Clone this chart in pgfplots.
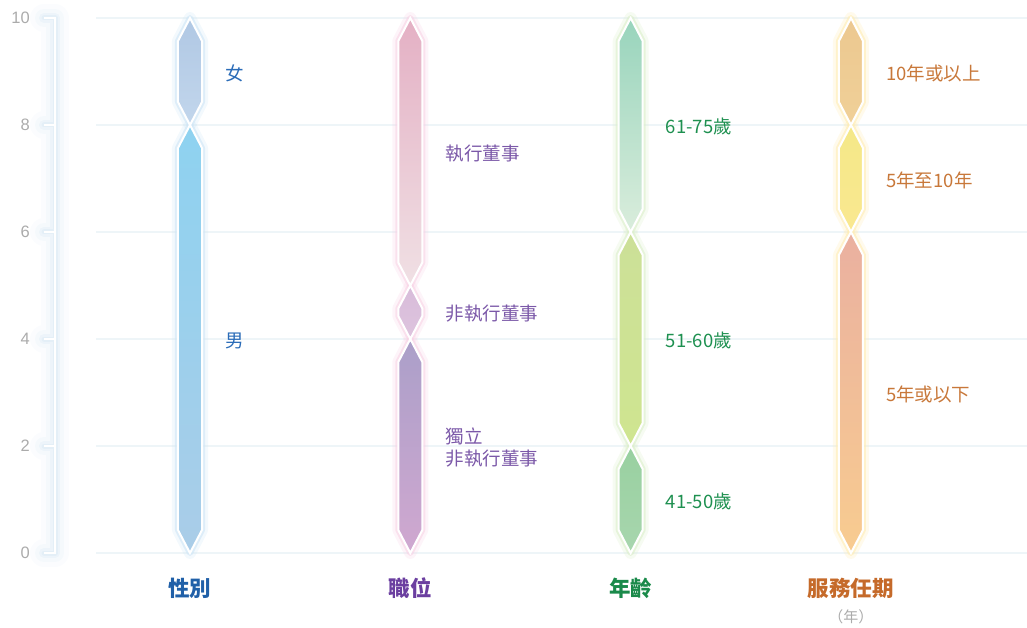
\documentclass[border=0pt]{standalone}
\usepackage{pgfplots}
\pgfplotsset{compat=1.18}
\usepackage{fontspec}
\setmainfont{Noto Sans CJK TC}
\newfontfamily\tickfont{Liberation Sans}
\definecolor{gridc}{HTML}{EEF5F8}
\definecolor{axglow}{HTML}{D4E6F3}
\definecolor{tickgray}{HTML}{ABABAB}
% category label colours
\definecolor{catA}{HTML}{2060A8}
\definecolor{catB}{HTML}{6B3FA0}
\definecolor{catC}{HTML}{1A8A4A}
\definecolor{catD}{HTML}{C56A2A}
% series label colours
\definecolor{labA}{HTML}{2B6CB8}
\definecolor{labB}{HTML}{7B58A8}
\definecolor{labC}{HTML}{1E9050}
\definecolor{labD}{HTML}{C8783A}
% glows
\definecolor{glowA}{HTML}{CFE6F6}
\definecolor{glowB}{HTML}{F8D4E6}
\definecolor{glowC}{HTML}{DCEFCB}
\definecolor{glowD}{HTML}{FFEDB5}
% segment colours
\definecolor{a1t}{HTML}{8ED2F0}\definecolor{a1b}{HTML}{AACDE8}
\definecolor{a2t}{HTML}{B0C8E4}\definecolor{a2b}{HTML}{C2D6EC}
\definecolor{b1t}{HTML}{AB9FC9}\definecolor{b1b}{HTML}{D0A8D0}
\definecolor{b2t}{HTML}{D8BCDA}\definecolor{b2b}{HTML}{DEC4DE}
\definecolor{b3t}{HTML}{E4B0C4}\definecolor{b3b}{HTML}{F0E0E4}
\definecolor{c1t}{HTML}{98D0A0}\definecolor{c1b}{HTML}{A8D6AE}
\definecolor{c2t}{HTML}{CCE098}\definecolor{c2b}{HTML}{CFE590}
\definecolor{c3t}{HTML}{98D4BC}\definecolor{c3b}{HTML}{DAEDDC}
\definecolor{d1t}{HTML}{EAB0A0}\definecolor{d1b}{HTML}{F8CC90}
\definecolor{d2t}{HTML}{F4E888}\definecolor{d2b}{HTML}{FAE890}
\definecolor{d3t}{HTML}{ECC890}\definecolor{d3b}{HTML}{F0D098}

\newcommand\bw{0.0545}
\newcommand\tp{0.43}
% #1 category x, #2 lower value, #3 upper value, #4 style
\newcommand{\segshape}[4]{%
  \pgfmathsetmacro\xl{#1-\bw}\pgfmathsetmacro\xr{#1+\bw}%
  \pgfmathsetmacro\ya{#2+\tp}\pgfmathsetmacro\yb{#3-\tp}%
  \edef\tmp{\noexpand\addplot[#4] coordinates {(#1,#2) (\xr,\ya) (\xr,\yb) (#1,#3) (\xl,\yb) (\xl,\ya)} -- cycle;}\tmp}
\newcommand{\glow}[4]{%
  \segshape{#1}{#2}{#3}{draw=#4, line width=12pt, opacity=0.25, line join=round}%
  \segshape{#1}{#2}{#3}{draw=#4, line width=6pt, opacity=0.6, line join=round}}
\newcommand{\seg}[5]{%
  \segshape{#1}{#2}{#3}{draw=white, line width=2pt, top color=#4, bottom color=#5}}
\newcommand{\bracket}{(axis cs:-0.6626,0) -- (axis cs:-0.6127,0) -- (axis cs:-0.6127,10) -- (axis cs:-0.6626,10)
  (axis cs:-0.6626,2) -- (axis cs:-0.6127,2) (axis cs:-0.6626,4) -- (axis cs:-0.6127,4)
  (axis cs:-0.6626,6) -- (axis cs:-0.6127,6) (axis cs:-0.6626,8) -- (axis cs:-0.6127,8)}

\begin{document}
\begin{tikzpicture}
\useasboundingbox (0,0) rectangle (1027pt,627pt);
\begin{axis}[at={(55pt,74pt)}, anchor=south west, scale only axis,
  width=972pt, height=535pt, xmin=-0.6127, xmax=3.799, ymin=0, ymax=10,
  hide axis, clip=false]
% grid lines
\pgfplotsinvokeforeach{0,2,4,6,8,10}{
  \draw[gridc, line width=2pt] (axis cs:-0.427,#1) -- (axis cs:3.799,#1);}
% y axis bracket with soft glow
\draw[axglow, line width=28pt, opacity=0.10, line join=round, line cap=round] \bracket;
\draw[axglow, line width=18pt, opacity=0.15, line join=round, line cap=round] \bracket;
\draw[axglow, line width=10pt, opacity=0.25, line join=round, line cap=round] \bracket;
\draw[axglow, line width=5pt, opacity=0.35, line join=round, line cap=round] \bracket;
\draw[white, line width=2.5pt] \bracket;
\pgfplotsinvokeforeach{0,2,4,6,8,10}{
  \node[anchor=east, text=tickgray, font=\tickfont\fontsize{16.5}{18}\selectfont, inner sep=0pt]
    at (axis cs:-0.726,#1) {#1};}

% glows
\glow{0}{0}{8}{glowA}\glow{0}{8}{10}{glowA}
\glow{1}{0}{4}{glowB}\glow{1}{4}{5}{glowB}\glow{1}{5}{10}{glowB}
\glow{2}{0}{2}{glowC}\glow{2}{2}{6}{glowC}\glow{2}{6}{10}{glowC}
\glow{3}{0}{6}{glowD}\glow{3}{6}{8}{glowD}\glow{3}{8}{10}{glowD}

% 性別: 男 8, 女 2
\seg{0}{0}{8}{a1t}{a1b}
\seg{0}{8}{10}{a2t}{a2b}
% 職位: 獨立非執行董事 4, 非執行董事 1, 執行董事 5
\seg{1}{0}{4}{b1t}{b1b}
\seg{1}{4}{5}{b2t}{b2b}
\seg{1}{5}{10}{b3t}{b3b}
% 年齡: 41-50 2, 51-60 4, 61-75 4
\seg{2}{0}{2}{c1t}{c1b}
\seg{2}{2}{6}{c2t}{c2b}
\seg{2}{6}{10}{c3t}{c3b}
% 服務任期: <=5 6, 5-10 2, >=10 2
\seg{3}{0}{6}{d1t}{d1b}
\seg{3}{6}{8}{d2t}{d2b}
\seg{3}{8}{10}{d3t}{d3b}

% series labels
\tikzset{lab/.style={anchor=west, inner sep=0pt, font=\fontsize{18.5}{22}\selectfont, align=left}}
\node[lab, text=labA] at (axis cs:0.159,8.97) {女};
\node[lab, text=labA] at (axis cs:0.159,3.97) {男};
\node[lab, text=labB] at (axis cs:1.159,7.47) {執行董事};
\node[lab, text=labB] at (axis cs:1.159,4.47) {非執行董事};
\node[lab, text=labB] at (axis cs:1.159,1.97) {獨立\\非執行董事};
\node[lab, text=labC] at (axis cs:2.159,7.97) {61-75歲};
\node[lab, text=labC] at (axis cs:2.159,3.97) {51-60歲};
\node[lab, text=labC] at (axis cs:2.159,0.97) {41-50歲};
\node[lab, text=labD] at (axis cs:3.159,8.97) {10年或以上};
\node[lab, text=labD] at (axis cs:3.159,6.97) {5年至10年};
\node[lab, text=labD] at (axis cs:3.159,2.97) {5年或以下};

% category labels
\tikzset{cat/.style={inner sep=0pt, font=\fontsize{21.5}{24}\selectfont\bfseries}}
\node[cat, text=catA] at (axis cs:0,-0.654) {性別};
\node[cat, text=catB] at (axis cs:1,-0.654) {職位};
\node[cat, text=catC] at (axis cs:2,-0.654) {年齡};
\node[cat, text=catD] at (axis cs:3,-0.654) {服務任期};
\node[inner sep=0pt, text=tickgray, font=\fontsize{15}{17}\selectfont] at (axis cs:3,-1.196) {（年）};
\end{axis}
\end{tikzpicture}
\end{document}
